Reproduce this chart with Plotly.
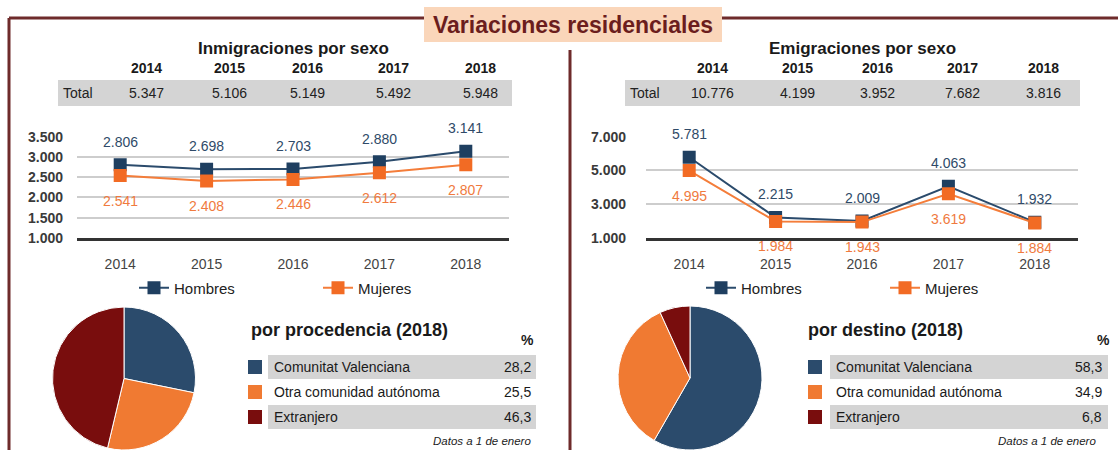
import plotly.graph_objects as go

W, H = 1118, 450

# ---------------- data ----------------
years = ["2014", "2015", "2016", "2017", "2018"]
inm_total = [5347, 5106, 5149, 5492, 5948]
inm_hombres = [2806, 2698, 2703, 2880, 3141]
inm_mujeres = [2541, 2408, 2446, 2612, 2807]
emi_total = [10776, 4199, 3952, 7682, 3816]
emi_hombres = [5781, 2215, 2009, 4063, 1932]
emi_mujeres = [4995, 1984, 1943, 3619, 1884]
origen = ["Comunitat Valenciana", "Otra comunidad autónoma", "Extranjero"]
procedencia_pct = [28.2, 25.5, 46.3]
destino_pct = [58.3, 34.9, 6.8]
inm_yticks = [1000, 1500, 2000, 2500, 3000, 3500]
emi_yticks = [1000, 3000, 5000, 7000]

# ---------------- style ----------------
FONT = "Liberation Sans, Arial, sans-serif"
NARROW = "Liberation Sans Narrow, Arial Narrow, Liberation Sans, sans-serif"
BLUE = "#2b4b6c"
BLUE_M = "#1f3f60"
ORANGE = "#f47d3a"
ORANGE_M = "#f26b24"
MAROON = "#790d0d"
FRAME = "#6e2b2b"
PEACH = "#fad6ba"
GRAY = "#d4d4d4"
PIE_COLORS = [BLUE, "#f07a32", MAROON]


def X(px):
    return px / W


def Y(py):
    return 1 - py / H


def es_int(v):
    return f"{v:,}".replace(",", ".")


def es_dec(v):
    return f"{v:.1f}".replace(".", ",")


fig = go.Figure()

# ---------------- line charts ----------------
panels = [
    dict(xa="x", ya="y", leg="legend", h=inm_hombres, m=inm_mujeres),
    dict(xa="x2", ya="y2", leg="legend2", h=emi_hombres, m=emi_mujeres),
]
for p in panels:
    fig.add_trace(go.Scatter(
        x=years, y=p["h"], name="Hombres", mode="lines+markers",
        line=dict(color=BLUE, width=2),
        marker=dict(symbol="square", size=13, color=BLUE_M),
        xaxis=p["xa"], yaxis=p["ya"], legend=p["leg"], hoverinfo="x+y"))
    fig.add_trace(go.Scatter(
        x=years, y=p["m"], name="Mujeres", mode="lines+markers",
        line=dict(color=ORANGE, width=2),
        marker=dict(symbol="square", size=13, color=ORANGE_M),
        xaxis=p["xa"], yaxis=p["ya"], legend=p["leg"], hoverinfo="x+y"))

annotations = []
for p in panels:
    for i, v in enumerate(p["h"]):
        annotations.append(dict(x=i, y=v, xref=p["xa"], yref=p["ya"], text=es_int(v),
                                showarrow=False, yshift=23,
                                font=dict(size=14, color="#2f4a68", family=FONT)))
    for i, v in enumerate(p["m"]):
        annotations.append(dict(x=i, y=v, xref=p["xa"], yref=p["ya"], text=es_int(v),
                                showarrow=False, yshift=-25,
                                font=dict(size=14, color="#f07a3e", family=FONT)))

xaxis_common = dict(type="category", range=[-0.5, 4.5], autorange=False, showgrid=False,
                    showline=True, linecolor="#333333",
                    linewidth=2.5, ticks="", tickfont=dict(size=14, color="#444444"),
                    ticklabelstandoff=11, fixedrange=True)
yaxis_common = dict(showgrid=True, gridcolor="#cdcdcd", gridwidth=1.5, zeroline=False,
                    showline=False, ticks="", tickformat=",d", autorange=False,
                    tickfont=dict(size=14, color="#3a3a3a", weight="bold"), fixedrange=True)

ydom = [Y(238), Y(136.7)]
fig.update_layout(
    xaxis=dict(domain=[X(77), X(509)], anchor="y", **xaxis_common),
    yaxis=dict(domain=ydom, anchor="x", range=[1000, 3500], tickvals=inm_yticks,
               ticklabelstandoff=13, **yaxis_common),
    xaxis2=dict(domain=[X(646), X(1078)], anchor="y2", **xaxis_common),
    yaxis2=dict(domain=ydom, anchor="x2", range=[1000, 7000], tickvals=emi_yticks,
                ticklabelstandoff=19, **yaxis_common),
)

# ---------------- pies ----------------
fig.add_trace(go.Pie(values=procedencia_pct, labels=origen, sort=False, direction="clockwise",
                     rotation=0, textinfo="none", showlegend=False,
                     marker=dict(colors=PIE_COLORS, line=dict(color="white", width=1)),
                     domain=dict(x=[X(51), X(197)], y=[0, Y(307)])))
fig.add_trace(go.Pie(values=destino_pct, labels=origen, sort=False, direction="clockwise",
                     rotation=0, textinfo="none", showlegend=False,
                     marker=dict(colors=PIE_COLORS, line=dict(color="white", width=1)),
                     domain=dict(x=[X(616), X(764)], y=[0, Y(306)])))

shapes = []


def rect(x0, y0, x1, y1, color, layer="below"):
    shapes.append(dict(type="rect", xref="paper", yref="paper", x0=X(x0), x1=X(x1),
                       y0=Y(y1), y1=Y(y0), fillcolor=color, line=dict(width=0), layer=layer))


def line(x0, y0, x1, y1, color=FRAME, width=3):
    shapes.append(dict(type="line", xref="paper", yref="paper", x0=X(x0), x1=X(x1),
                       y0=Y(y0), y1=Y(y1), line=dict(color=color, width=width), layer="above"))


def text(x, y, s, size=14, color="#1a1a1a", bold=False, anchor="center", family=FONT,
         italic=False):
    annotations.append(dict(x=X(x), y=Y(y), xref="paper", yref="paper", text=s,
                            showarrow=False, xanchor=anchor, yanchor="middle",
                            font=dict(size=size, color=color, family=family,
                                      weight="bold" if bold else "normal",
                                      style="italic" if italic else "normal")))


# ---------------- frame & title ----------------
line(9, 18, 425, 18)
line(9, 18, 9, 450)
line(721, 18, 1118, 18)
line(570, 50, 570, 450)
rect(424, 7, 722, 42, PEACH, layer="above")
text(573, 25, "Variaciones residenciales", size=23, color="#6b1d1d", bold=True, family=NARROW)

# ---------------- total tables ----------------
tables = [
    dict(title="Inmigraciones por sexo", tx=293, band=(58, 512), total_x=61,
         cols=[146, 229, 308, 393, 480], vals=inm_total),
    dict(title="Emigraciones por sexo", tx=862, band=(625, 1080), total_x=628,
         cols=[712, 797, 877, 962, 1043], vals=emi_total),
]
for t in tables:
    text(t["tx"], 48, t["title"], size=17, bold=True, color="#1a1a1a")
    rect(t["band"][0], 80, t["band"][1], 106, GRAY)
    text(t["total_x"], 93, "Total", size=14, anchor="left", color="#222222")
    for cx, yr, v in zip(t["cols"], years, t["vals"]):
        text(cx, 68, yr, size=14, bold=True, color="#1a1a1a")
        text(cx, 93, es_int(v), size=14, color="#222222")

# ---------------- pie legends ----------------
legs = [
    dict(title="por procedencia (2018)", tx=249, sq=248, band=(268, 536), tl=272, vr=533,
         pct_x=527, vals=procedencia_pct, datos=533),
    dict(title="por destino (2018)", tx=806, sq=808, band=(830, 1108), tl=834, vr=1104,
         pct_x=1103, vals=destino_pct, datos=1098),
]
rows_y = [367, 392, 417]
for lg in legs:
    text(lg["tx"], 330, lg["title"], size=18, bold=True, anchor="left", color="#1a1a1a")
    text(lg["pct_x"], 340, "%", size=14, bold=True, color="#1a1a1a")
    for i, (name, v, c, ry) in enumerate(zip(origen, lg["vals"], PIE_COLORS, rows_y)):
        if i != 1:
            rect(lg["band"][0], ry - 12, lg["band"][1], ry + 12, GRAY)
        rect(lg["sq"], ry - 7, lg["sq"] + 14, ry + 7, c)
        text(lg["tl"], ry, name, size=14, anchor="left", color="#1a1a1a")
        text(lg["vr"], ry, es_dec(v), size=14, anchor="right", color="#1a1a1a")
    text(lg["datos"], 441, "Datos a 1 de enero", size=11.5, anchor="right", italic=True,
         color="#222222")

legend_common = dict(orientation="h", yanchor="middle", xanchor="left",
                     font=dict(size=15, color="#222222", family=FONT),
                     bgcolor="rgba(0,0,0,0)", entrywidth=139, traceorder="normal")
fig.update_layout(
    width=W, height=H, margin=dict(l=0, r=0, t=0, b=0, autoexpand=False),
    paper_bgcolor="white", plot_bgcolor="white", separators=",.",
    font=dict(family=FONT, size=14, color="#333333"),
    showlegend=True,
    legend=dict(x=X(134), y=Y(288), **legend_common),
    legend2=dict(x=X(701), y=Y(288), **legend_common),
    shapes=shapes, annotations=annotations,
)

fig.write_html("out.html", config={"displayModeBar": False},
               post_script="document.body.style.margin='0';")
